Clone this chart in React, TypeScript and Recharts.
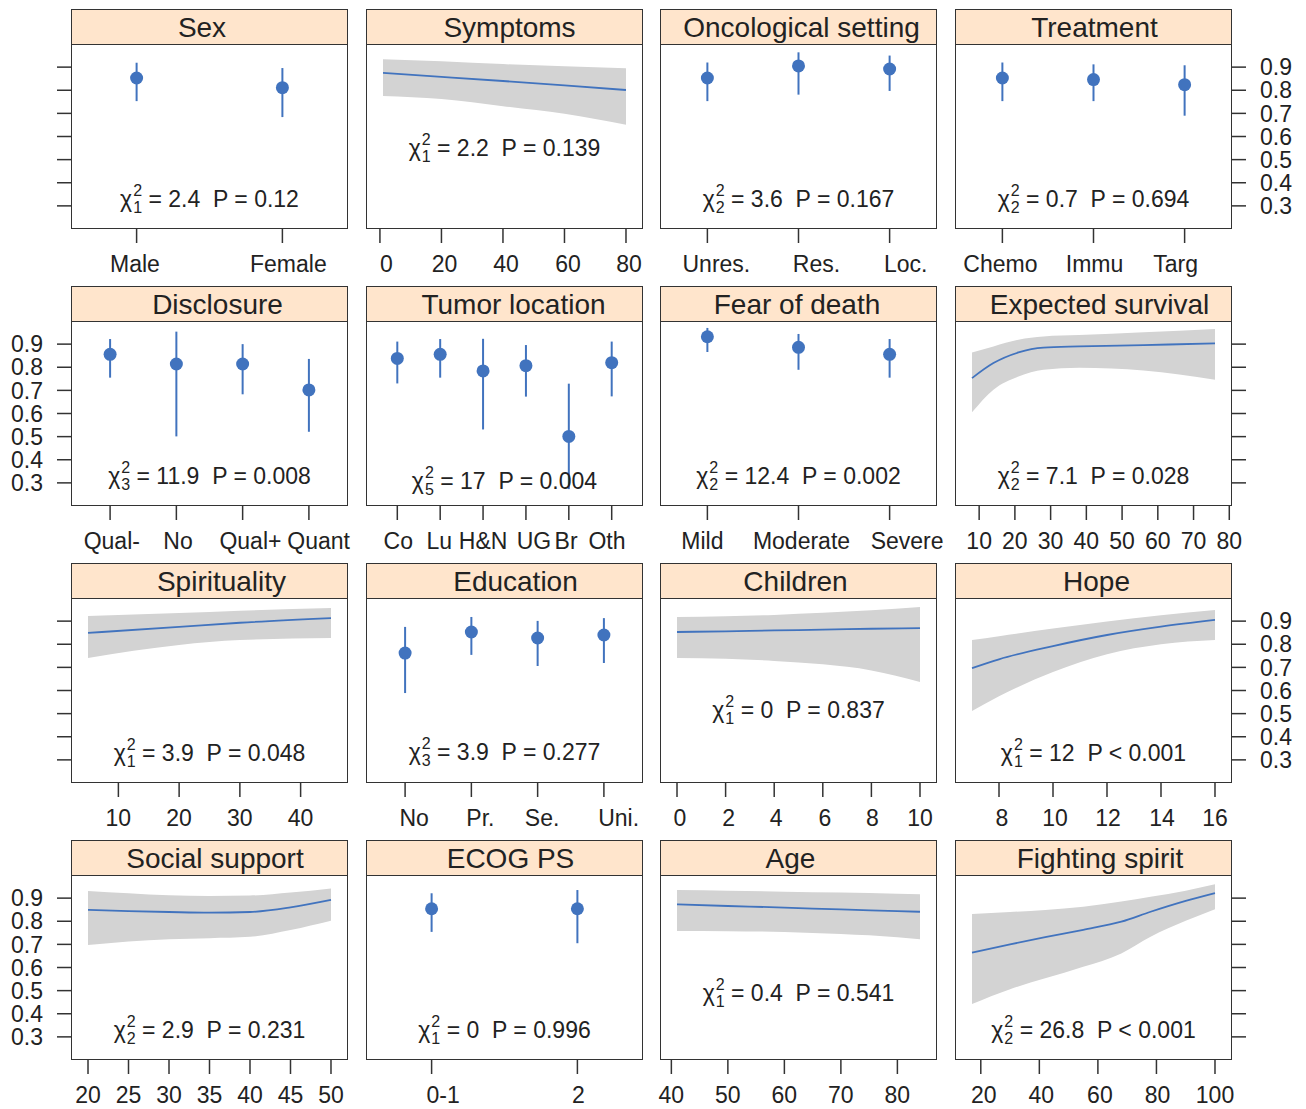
import { Area, ComposedChart, ErrorBar, Line, Scatter, XAxis, YAxis } from "recharts";

const BLUE = "#4173be";
const BAND = "#d3d3d3";
const INK = "#222222";
const FRAME = "#333333";
const STRIP = "#ffe5cc";
const FONT = '"Liberation Sans", Arial, Helvetica, sans-serif';

const COL_LEFT = [71, 366, 660, 955];
const ROW_TOP = [44, 321, 598, 875];
const PLOT_W = 277;
const PLOT_H = 185;
const STRIP_H = 35;
const AXIS_W = 64;
const AXIS_H = 50;
const GUTTER = 24;

const Y_TICKS = [0.3, 0.4, 0.5, 0.6, 0.7, 0.8, 0.9];

// --- categorical effects (estimate, lower, upper) ---
const sexLevels = ["Male", "Female"];
const sexFit = [0.853, 0.811];
const sexLower = [0.753, 0.684];
const sexUpper = [0.919, 0.896];

const oncoLevels = ["Unres.", "Res.", "Loc."];
const oncoFit = [0.853, 0.905, 0.892];
const oncoLower = [0.753, 0.781, 0.797];
const oncoUpper = [0.92, 0.964, 0.95];

const treatLevels = ["Chemo", "Immu", "Targ"];
const treatFit = [0.853, 0.846, 0.824];
const treatLower = [0.753, 0.753, 0.69];
const treatUpper = [0.92, 0.912, 0.908];

const discLevels = ["Qual-", "No", "Qual+", "Quant"];
const discFit = [0.856, 0.814, 0.814, 0.702];
const discLower = [0.755, 0.501, 0.683, 0.521];
const discUpper = [0.922, 0.954, 0.9, 0.836];

const tumorLevels = ["Co", "Lu", "H&N", "UG", "Br", "Oth"];
const tumorFit = [0.838, 0.856, 0.784, 0.807, 0.501, 0.82];
const tumorLower = [0.73, 0.755, 0.531, 0.673, 0.273, 0.674];
const tumorUpper = [0.911, 0.922, 0.923, 0.896, 0.729, 0.911];

const fearLevels = ["Mild", "Moderate", "Severe"];
const fearFit = [0.932, 0.886, 0.856];
const fearLower = [0.866, 0.789, 0.755];
const fearUpper = [0.97, 0.944, 0.922];

const eduLevels = ["No", "Pr.", "Se.", "Uni."];
const eduFit = [0.762, 0.853, 0.827, 0.84];
const eduLower = [0.589, 0.754, 0.706, 0.719];
const eduUpper = [0.875, 0.918, 0.901, 0.913];

const ecogLevels = ["0-1", "2"];
const ecogFit = [0.854, 0.854];
const ecogLower = [0.754, 0.705];
const ecogUpper = [0.921, 0.935];

// --- continuous effects ---
const symptomsX = [1, 20, 40, 60, 80];
const symptomsFit = [0.875, 0.858, 0.84, 0.821, 0.801];
const symptomsLower = [0.775, 0.762, 0.731, 0.698, 0.651];
const symptomsUpper = [0.934, 0.925, 0.913, 0.904, 0.895];
const symptomsTicks = [0, 20, 40, 60, 80];

const survivalX = [8, 14, 21, 28, 38, 56, 76];
const survivalFit = [0.753, 0.818, 0.864, 0.885, 0.89, 0.896, 0.903];
const survivalLower = [0.605, 0.703, 0.76, 0.789, 0.798, 0.786, 0.746];
const survivalUpper = [0.864, 0.89, 0.919, 0.933, 0.939, 0.951, 0.965];
const survivalTicks = [10, 20, 30, 40, 50, 60, 70, 80];

const spiritX = [5, 20, 30, 45];
const spiritFit = [0.849, 0.875, 0.893, 0.913];
const spiritLower = [0.741, 0.797, 0.818, 0.827];
const spiritUpper = [0.922, 0.935, 0.945, 0.957];
const spiritTicks = [10, 20, 30, 40];

const childrenX = [0, 2, 4, 6, 8, 10];
const childrenFit = [0.853, 0.856, 0.86, 0.863, 0.867, 0.87];
const childrenLower = [0.741, 0.737, 0.728, 0.713, 0.687, 0.637];
const childrenUpper = [0.918, 0.921, 0.927, 0.936, 0.947, 0.961];
const childrenTicks = [0, 2, 4, 6, 8, 10];

const hopeX = [7, 8, 10, 12, 14, 16];
const hopeFit = [0.697, 0.735, 0.792, 0.84, 0.876, 0.905];
const hopeLower = [0.511, 0.575, 0.68, 0.757, 0.8, 0.818];
const hopeUpper = [0.818, 0.835, 0.868, 0.898, 0.925, 0.948];
const hopeTicks = [8, 10, 12, 14, 16];

const socialX = [20, 25, 30, 35, 40, 45, 50];
const socialFit = [0.849, 0.844, 0.84, 0.837, 0.84, 0.86, 0.892];
const socialLower = [0.697, 0.712, 0.722, 0.727, 0.733, 0.762, 0.802];
const socialUpper = [0.931, 0.921, 0.912, 0.909, 0.911, 0.924, 0.942];
const socialTicks = [20, 25, 30, 35, 40, 45, 50];

const ageX = [41, 50, 60, 70, 80, 84];
const ageFit = [0.873, 0.866, 0.859, 0.851, 0.844, 0.841];
const ageLower = [0.758, 0.757, 0.754, 0.745, 0.731, 0.722];
const ageUpper = [0.935, 0.932, 0.928, 0.924, 0.919, 0.917];
const ageTicks = [40, 50, 60, 70, 80];

const fightX = [17, 30, 42, 55, 68, 78, 90, 100];
const fightFit = [0.664, 0.7, 0.731, 0.763, 0.798, 0.841, 0.888, 0.922];
const fightLower = [0.442, 0.506, 0.553, 0.603, 0.661, 0.733, 0.802, 0.852];
const fightUpper = [0.831, 0.84, 0.849, 0.863, 0.885, 0.906, 0.932, 0.96];
const fightTicks = [20, 40, 60, 80, 100];

// horizontal nudges (px) of strip titles and tick labels, as placed in the original
const titleNudge: Record<string, number> = {
  Sex: -7.5, Symptoms: 5, "Oncological setting": 3, Treatment: 1,
  Disclosure: 8, "Tumor location": 9, "Fear of death": -1.5, "Expected survival": 6,
  Spirituality: 12, Education: 11, Children: -3, Hope: 3,
  "Social support": 5.5, "ECOG PS": 6, Age: -8, "Fighting spirit": 6.5
};

const labelNudge: Record<string, number[]> = {
  Sex: [-1.7, 6],
  Symptoms: [6.5, 3, 3, 3.5, 3],
  "Oncological setting": [9, 18, 16],
  Treatment: [-2, 1, -9],
  Disclosure: [1.7, 1.7, 7.8, 9.7],
  "Tumor location": [1, -1, 0, 8, -2.7, -4.7],
  "Fear of death": [-5, 3, 17.5],
  Education: [9, 9, 4.5, 14.7],
  Children: [3, 3, 2, 2, 1, 0],
  Hope: [3, 2, 1, 1, 0],
  "ECOG PS": [11.5, 1],
  "Fighting spirit": [3, 2, 2, 1, 0]
};

type Stat = { df: number; chi: string; op: string; p: string; dy: number };

type CatPanel = {
  kind: "cat";
  title: string;
  levels: string[];
  fit: number[];
  lower: number[];
  upper: number[];
  stat: Stat;
};

type NumPanel = {
  kind: "num";
  title: string;
  x: number[];
  fit: number[];
  lower: number[];
  upper: number[];
  ticks: number[];
  stat: Stat;
};

type PanelSpec = CatPanel | NumPanel;

const panels: PanelSpec[] = [
  { kind: "cat", title: "Sex", levels: sexLevels, fit: sexFit, lower: sexLower, upper: sexUpper,
    stat: { df: 1, chi: "2.4", op: "=", p: "0.12", dy: 155 } },
  { kind: "num", title: "Symptoms", x: symptomsX, fit: symptomsFit, lower: symptomsLower, upper: symptomsUpper,
    ticks: symptomsTicks, stat: { df: 1, chi: "2.2", op: "=", p: "0.139", dy: 104 } },
  { kind: "cat", title: "Oncological setting", levels: oncoLevels, fit: oncoFit, lower: oncoLower, upper: oncoUpper,
    stat: { df: 2, chi: "3.6", op: "=", p: "0.167", dy: 155 } },
  { kind: "cat", title: "Treatment", levels: treatLevels, fit: treatFit, lower: treatLower, upper: treatUpper,
    stat: { df: 2, chi: "0.7", op: "=", p: "0.694", dy: 155 } },

  { kind: "cat", title: "Disclosure", levels: discLevels, fit: discFit, lower: discLower, upper: discUpper,
    stat: { df: 3, chi: "11.9", op: "=", p: "0.008", dy: 155 } },
  { kind: "cat", title: "Tumor location", levels: tumorLevels, fit: tumorFit, lower: tumorLower, upper: tumorUpper,
    stat: { df: 5, chi: "17", op: "=", p: "0.004", dy: 160 } },
  { kind: "cat", title: "Fear of death", levels: fearLevels, fit: fearFit, lower: fearLower, upper: fearUpper,
    stat: { df: 2, chi: "12.4", op: "=", p: "0.002", dy: 155 } },
  { kind: "num", title: "Expected survival", x: survivalX, fit: survivalFit, lower: survivalLower, upper: survivalUpper,
    ticks: survivalTicks, stat: { df: 2, chi: "7.1", op: "=", p: "0.028", dy: 155 } },

  { kind: "num", title: "Spirituality", x: spiritX, fit: spiritFit, lower: spiritLower, upper: spiritUpper,
    ticks: spiritTicks, stat: { df: 1, chi: "3.9", op: "=", p: "0.048", dy: 155 } },
  { kind: "cat", title: "Education", levels: eduLevels, fit: eduFit, lower: eduLower, upper: eduUpper,
    stat: { df: 3, chi: "3.9", op: "=", p: "0.277", dy: 154 } },
  { kind: "num", title: "Children", x: childrenX, fit: childrenFit, lower: childrenLower, upper: childrenUpper,
    ticks: childrenTicks, stat: { df: 1, chi: "0", op: "=", p: "0.837", dy: 112 } },
  { kind: "num", title: "Hope", x: hopeX, fit: hopeFit, lower: hopeLower, upper: hopeUpper,
    ticks: hopeTicks, stat: { df: 1, chi: "12", op: "<", p: "0.001", dy: 155 } },

  { kind: "num", title: "Social support", x: socialX, fit: socialFit, lower: socialLower, upper: socialUpper,
    ticks: socialTicks, stat: { df: 2, chi: "2.9", op: "=", p: "0.231", dy: 155 } },
  { kind: "cat", title: "ECOG PS", levels: ecogLevels, fit: ecogFit, lower: ecogLower, upper: ecogUpper,
    stat: { df: 1, chi: "0", op: "=", p: "0.996", dy: 155 } },
  { kind: "num", title: "Age", x: ageX, fit: ageFit, lower: ageLower, upper: ageUpper,
    ticks: ageTicks, stat: { df: 1, chi: "0.4", op: "=", p: "0.541", dy: 118 } },
  { kind: "num", title: "Fighting spirit", x: fightX, fit: fightFit, lower: fightLower, upper: fightUpper,
    ticks: fightTicks, stat: { df: 2, chi: "26.8", op: "<", p: "0.001", dy: 155 } }
];

const tickText = { fontSize: 23, fill: INK, fontFamily: FONT };
const tickStroke = { stroke: FRAME, strokeWidth: 1.5 };

function Dot(props: any) {
  const { cx, cy } = props;
  if (cx == null || cy == null) return null;
  return <circle cx={cx} cy={cy} r={6.5} fill={BLUE} />;
}

function StatLabel({ stat, left, top }: { stat: Stat; left: number; top: number }) {
  return (
    <div
      style={{
        position: "absolute",
        left,
        top: top + stat.dy - 20,
        width: PLOT_W,
        height: 40,
        lineHeight: "40px",
        textAlign: "center",
        fontFamily: FONT,
        fontSize: 23,
        color: INK,
        whiteSpace: "pre"
      }}
    >
      <span>χ</span>
      <span
        style={{
          display: "inline-flex",
          flexDirection: "column",
          verticalAlign: "middle",
          fontSize: 16,
          lineHeight: "17px",
          marginLeft: 1,
          position: "relative",
          top: -2
        }}
      >
        <span>2</span>
        <span>{stat.df}</span>
      </span>
      <span>{` = ${stat.chi}  P ${stat.op} ${stat.p}`}</span>
    </div>
  );
}

function Panel({ spec, row, col }: { spec: PanelSpec; row: number; col: number }) {
  const left = COL_LEFT[col];
  const top = ROW_TOP[row];
  const yLeft = col === 0;
  const yRight = col === 3;
  const yLabels = (yLeft && row % 2 === 1) || (yRight && row % 2 === 0);
  const lw = yLeft ? AXIS_W : 0;
  const rw = yRight ? AXIS_W : 0;
  const nudges = labelNudge[spec.title] ?? [];

  let domain: [number, number];
  let ticks: number[];
  let fmt: (v: number) => string;
  let data: any[];

  if (spec.kind === "cat") {
    const n = spec.levels.length;
    const pad = 1 / 3 + 0.07 * (n - 1 + 2 / 3);
    domain = [1 - pad, n + pad];
    ticks = spec.levels.map((_, i) => i + 1);
    fmt = (v) => spec.levels[Math.round(v) - 1] ?? "";
    data = spec.levels.map((_, i) => ({
      x: i + 1,
      y: spec.fit[i],
      err: [spec.fit[i] - spec.lower[i], spec.upper[i] - spec.fit[i]]
    }));
  } else {
    const lo = Math.min(...spec.x);
    const hi = Math.max(...spec.x);
    const ext = (hi - lo) * 0.07;
    domain = [lo - ext, hi + ext];
    ticks = spec.ticks;
    fmt = (v) => String(v);
    data = spec.x.map((x, i) => ({ x, fit: spec.fit[i], band: [spec.lower[i], spec.upper[i]] }));
  }

  const XTick = (props: any) => {
    const { x, y, payload, index } = props;
    return (
      <text
        x={x + (nudges[index] ?? 0)}
        y={y}
        dy={16.3}
        textAnchor="middle"
        fontSize={23}
        fill={INK}
        fontFamily={FONT}
      >
        {fmt(payload.value)}
      </text>
    );
  };

  return (
    <>
      <div
        style={{
          position: "absolute",
          left,
          top: top - STRIP_H,
          width: PLOT_W,
          height: STRIP_H + 1,
          boxSizing: "border-box",
          background: STRIP,
          border: `1.5px solid ${FRAME}`,
          textAlign: "center",
          fontFamily: FONT,
          fontSize: 28,
          lineHeight: `${STRIP_H}px`,
          color: INK,
          whiteSpace: "nowrap",
          overflow: "hidden"
        }}
      >
        <span style={{ position: "relative", left: titleNudge[spec.title] ?? 0 }}>{spec.title}</span>
      </div>
      <div style={{ position: "absolute", left: left - lw - GUTTER, top }}>
        <ComposedChart
          width={lw + PLOT_W + rw + 2 * GUTTER}
          height={PLOT_H + AXIS_H}
          data={data}
          margin={{ top: 0, right: GUTTER, bottom: 0, left: GUTTER }}
        >
          <XAxis
            dataKey="x"
            type="number"
            domain={domain}
            ticks={ticks}
            allowDataOverflow
            interval={0}
            height={AXIS_H}
            axisLine={false}
            tickLine={tickStroke}
            tickSize={14}
            tickMargin={13}
            tick={<XTick />}
          />
          {yLeft || yRight ? (
            <YAxis
              type="number"
              orientation={yLeft ? "left" : "right"}
              width={AXIS_W}
              domain={[0.2, 1]}
              ticks={Y_TICKS}
              allowDataOverflow
              interval={0}
              axisLine={false}
              tickLine={tickStroke}
              tickSize={14}
              tickMargin={14}
              tick={tickText}
              tickFormatter={(v: number) => (yLabels ? v.toFixed(1) : "")}
            />
          ) : (
            <YAxis type="number" hide domain={[0.2, 1]} allowDataOverflow />
          )}
          {spec.kind === "num" ? (
            <Area
              dataKey="band"
              type="monotone"
              stroke="none"
              fill={BAND}
              fillOpacity={1}
              isAnimationActive={false}
              activeDot={false}
            />
          ) : null}
          {spec.kind === "num" ? (
            <Line
              dataKey="fit"
              type="monotone"
              stroke={BLUE}
              strokeWidth={1.8}
              dot={false}
              activeDot={false}
              isAnimationActive={false}
            />
          ) : null}
          {spec.kind === "cat" ? (
            <Scatter dataKey="y" shape={<Dot />} isAnimationActive={false}>
              <ErrorBar dataKey="err" direction="y" width={0} stroke={BLUE} strokeWidth={2} />
            </Scatter>
          ) : null}
        </ComposedChart>
      </div>
      <div
        style={{
          position: "absolute",
          left,
          top,
          width: PLOT_W,
          height: PLOT_H,
          boxSizing: "border-box",
          border: `1.5px solid ${FRAME}`,
          pointerEvents: "none"
        }}
      />
      <StatLabel stat={spec.stat} left={left} top={top} />
    </>
  );
}

export default function App() {
  return (
    <div
      style={{
        position: "absolute",
        left: 0,
        top: 0,
        width: 1306,
        height: 1109,
        background: "#ffffff",
        fontFamily: FONT
      }}
    >
      {panels.map((spec, i) => (
        <Panel key={spec.title} spec={spec} row={Math.floor(i / 4)} col={i % 4} />
      ))}
    </div>
  );
}
